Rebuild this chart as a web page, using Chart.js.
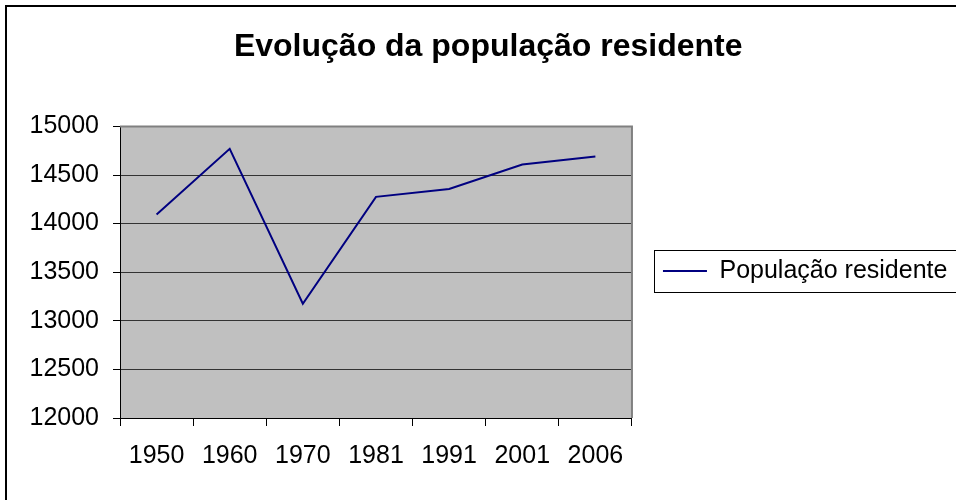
<!DOCTYPE html>
<html>
<head>
<meta charset="utf-8">
<script src="https://cdn.jsdelivr.net/npm/chart.js@4/dist/chart.umd.min.js"></script>
<style>
  html, body { margin: 0; padding: 0; background: #fff; overflow: hidden; }
  #frame { position: absolute; left: 5px; top: 5px; width: 1000px; height: 600px; border: 2px solid #000; }
  #wrap { position: absolute; left: 0; top: 0; width: 956px; height: 500px; }
</style>
</head>
<body>
<div id="frame"></div>
<div id="wrap"><canvas id="chart" width="956" height="500"></canvas></div>
<script>
// Evolução da população residente — line chart, Excel-style grey plot area

const years = ['1950', '1960', '1970', '1981', '1991', '2001', '2006'];
const population = [14094, 14769, 13175, 14275, 14356, 14608, 14690];
const seriesLabel = 'População residente';
const chartTitle = 'Evolução da população residente';

const FONT = "Arial, 'Liberation Sans', sans-serif";

// grey plot background + grey top/right border
const plotArea = {
    id: 'plotArea',
    beforeDraw(chart) {
        const { ctx, chartArea: a } = chart;
        ctx.save();
        ctx.fillStyle = '#c0c0c0';
        ctx.fillRect(a.left, a.top, a.right - a.left, a.bottom - a.top);
        ctx.restore();
    },
    afterDatasetsDraw(chart) {
        const { ctx, chartArea: a } = chart;
        ctx.save();
        ctx.strokeStyle = '#808080';
        ctx.lineWidth = 2;
        ctx.beginPath();
        ctx.moveTo(a.left, a.top);
        ctx.lineTo(a.right, a.top);
        ctx.lineTo(a.right, a.bottom);
        ctx.stroke();
        ctx.restore();
    },
};

// the legend sits on the right and is wider than Chart.js' default cap (1/4 of the width)
// -> lift the cap so it keeps its natural width
const wideLegend = {
    id: 'wideLegend',
    beforeLayout(chart) {
        const lg = chart.legend;
        if (!lg || lg._wide) return;
        const fit = lg.fit;
        lg.fit = function() {
            this.maxWidth = 2000;
            fit.call(this);
        };
        lg._wide = true;
    },
};

// box round the legend, like the spreadsheet legend frame
const legendFrame = {
    id: 'legendFrame',
    afterDraw(chart) {
        const hb = chart.legend && chart.legend.legendHitBoxes[0];
        if (!hb) return;
        const { ctx } = chart;
        ctx.save();
        ctx.strokeStyle = '#000';
        ctx.lineWidth = 1;
        const cy = hb.top + hb.height / 2;
        ctx.strokeRect(Math.round(hb.left - 9) + 0.5, Math.round(cy - 21) + 0.5, 400, 42);
        ctx.restore();
    },
};

new Chart(document.getElementById('chart'), {
    type: 'line',
    data: {
        labels: years,
        datasets: [{
            label: seriesLabel,
            data: population,
            borderColor: '#000080',
            backgroundColor: '#000080',
            borderWidth: 2,
            pointRadius: 0,
            pointStyle: 'line',
            tension: 0,
        }],
    },
    options: {
        responsive: false,
        animation: false,
        layout: { padding: { left: 19, right: -1.4, top: 0, bottom: 14 } },
        plugins: {
            title: {
                display: true,
                text: chartTitle,
                color: '#000',
                font: { family: FONT, size: 32, weight: 'bold' },
                padding: { top: 28, bottom: 60 },
            },
            legend: {
                position: 'right',
                // empty legend title only pushes the entry down to the middle of the plot
                title: { display: true, text: '', font: { size: 10, lineHeight: 1 }, padding: { top: 0, bottom: 46 } },
                labels: {
                    color: '#000',
                    font: { family: FONT, size: 25 },
                    usePointStyle: true,
                    pointStyleWidth: 44,
                    boxWidth: 44,
                    padding: 31,
                },
            },
            tooltip: { enabled: false },
        },
        scales: {
            x: {
                offset: true,
                grid: {
                    offset: true,
                    drawOnChartArea: false,
                    drawTicks: true,
                    tickLength: 8,
                    tickColor: '#000',
                },
                border: { display: true, color: '#000', width: 1 },
                ticks: {
                    color: '#000',
                    font: { family: FONT, size: 25 },
                    padding: 15,
                    maxRotation: 0,
                },
            },
            y: {
                min: 12000,
                max: 15000,
                afterFit(scale) { scale.width = 101; },
                grid: {
                    color: ctx => (ctx.tick && ctx.tick.value === 15000 ? '#808080' : '#333'),
                    lineWidth: 1,
                    tickLength: 7,
                    tickColor: '#000',
                },
                border: { display: true, color: '#000', width: 1 },
                ticks: {
                    stepSize: 500,
                    color: '#000',
                    font: { family: FONT, size: 25 },
                    padding: 14,
                    callback: v => String(v),
                },
            },
        },
    },
    plugins: [plotArea, wideLegend, legendFrame],
});
</script>
</body>
</html>
